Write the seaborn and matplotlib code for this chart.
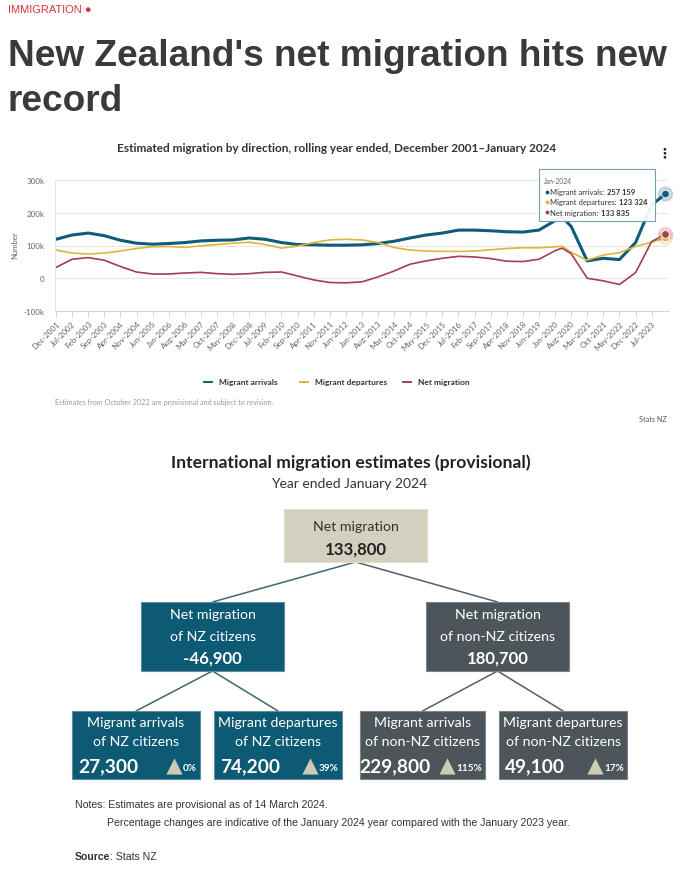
import matplotlib
matplotlib.use("Agg")
import matplotlib.pyplot as plt
from matplotlib.patches import Rectangle
import pandas as pd
import seaborn as sns

# Rolling-year migration, thousands
months = ["Dec-2001", "Jul-2002", "Feb-2003", "Sep-2003", "Apr-2004", "Nov-2004",
          "Jun-2005", "Jan-2006", "Aug-2006", "Mar-2007", "Oct-2007", "May-2008",
          "Dec-2008", "Jul-2009", "Feb-2010", "Sep-2010", "Apr-2011", "Nov-2011",
          "Jun-2012", "Jan-2013", "Aug-2013", "Mar-2014", "Oct-2014", "May-2015",
          "Dec-2015", "Jul-2016", "Feb-2017", "Sep-2017", "Apr-2018", "Nov-2018",
          "Jun-2019", "Jan-2020", "Apr-2020", "Aug-2020", "Mar-2021", "Oct-2021",
          "May-2022", "Dec-2022", "Jul-2023", "Jan-2024"]
arrivals = [119, 132, 138, 130, 116, 107, 104, 106, 109, 114, 116, 117,
            123, 119, 109, 103, 102, 101, 101, 102, 106, 113, 123, 132,
            138, 147, 147, 145, 142, 141, 147, 176, 188, 158, 53, 61,
            57, 109, 224, 257.159]
departures = [86, 77, 74, 77, 83, 91, 96, 97, 94, 99, 103, 107,
              110, 103, 92, 98, 109, 117, 119, 117, 109, 94, 86, 83,
              82, 82, 83, 87, 91, 93, 93, 96, 98, 79, 55, 71,
              78, 97, 110, 123.324]
net = [33, 58, 63, 55, 36, 19, 13, 13, 16, 18, 14, 12,
       14, 18, 19, 7, -5, -13, -14, -11, 4, 22, 43, 53,
       61, 67, 65, 60, 52, 51, 58, 84, 92, 75, 0, -8,
       -19, 17, 112, 133.835]

series_names = ["Migrant arrivals", "Migrant departures", "Net migration"]
series_colors = ["#0f5c78", "#dfb53c", "#a1404e"]
series_widths = [2.2, 1.2, 1.2]

tick_labels = ["Dec-2001", "Jul-2002", "Feb-2003", "Sep-2003", "Apr-2004", "Nov-2004",
               "Jun-2005", "Jan-2006", "Aug-2006", "Mar-2007", "Oct-2007", "May-2008",
               "Dec-2008", "Jul-2009", "Feb-2010", "Sep-2010", "Apr-2011", "Nov-2011",
               "Jun-2012", "Jan-2013", "Aug-2013", "Mar-2014", "Oct-2014", "May-2015",
               "Dec-2015", "Jul-2016", "Feb-2017", "Sep-2017", "Apr-2018", "Nov-2018",
               "Jun-2019", "Jan-2020", "Aug-2020", "Mar-2021", "Oct-2021", "May-2022",
               "Dec-2022", "Jul-2023"]
y_ticks = [-100, 0, 100, 200, 300]
y_tick_labels = ["-100k", "0", "100k", "200k", "300k"]

tooltip_month = "Jan-2024"
tooltip_values = ["257 159", "123 324", "133 835"]

# Year ended January 2024 breakdown
top_label = "Net migration"
top_value = "133,800"
mid_labels = [["Net migration", "of NZ citizens"], ["Net migration", "of non-NZ citizens"]]
mid_values = ["-46,900", "180,700"]
bottom_labels = [["Migrant arrivals", "of NZ citizens"], ["Migrant departures", "of NZ citizens"],
                 ["Migrant arrivals", "of non-NZ citizens"], ["Migrant departures", "of non-NZ citizens"]]
bottom_values = ["27,300", "74,200", "229,800", "49,100"]
bottom_changes = ["0%", "39%", "115%", "17%"]

TEAL = "#0c5a74"
SLATE = "#4c5559"
BEIGE = "#d3d0bf"
ARIAL = ["Liberation Sans", "DejaVu Sans"]

sns.set_theme(style="white")
plt.rcParams["font.family"] = ["Lato", "DejaVu Sans"]

fig = plt.figure(figsize=(6.8, 8.78), dpi=100)
fig.patch.set_facecolor("white")
renderer = fig.canvas.get_renderer()

ax = fig.add_axes([54.5 / 680, 1 - 312 / 878, (668 - 54.5) / 680, (312 - 181) / 878])
ov = fig.add_axes([0, 0, 1, 1], zorder=5)
ov.set_xlim(0, 680)
ov.set_ylim(878, 0)
ov.axis("off")


def fit(t, width):
    w = t.get_window_extent(renderer).width
    t.set_fontsize(t.get_fontsize() * width / w)
    return t.get_fontsize()


def text_run(x, y, parts, gap=0, **kw):
    for s, weight in parts:
        t = ov.text(x, y, s, fontweight=weight, **kw)
        x += t.get_window_extent(renderer).width + gap


# ---- line chart ----
dates = pd.to_datetime(months, format="%b-%Y")
df = pd.DataFrame({"month": dates, series_names[0]: arrivals,
                   series_names[1]: departures, series_names[2]: net})
long = df.melt(id_vars="month", var_name="series", value_name="value")
palette = dict(zip(series_names, series_colors))

sns.lineplot(data=long, x="month", y="value", hue="series", size="series",
             hue_order=series_names, size_order=series_names, palette=palette,
             sizes=dict(zip(series_names, series_widths)), legend=False, ax=ax)

last = long[long["month"] == dates[-1]]
sns.scatterplot(data=last, x="month", y="value", hue="series", hue_order=series_names,
                palette=palette, s=120, alpha=0.25, linewidth=0, legend=False,
                ax=ax, zorder=4, clip_on=False)
sns.scatterplot(data=last, x="month", y="value", hue="series", hue_order=series_names,
                palette=palette, s=30, edgecolor="white", linewidth=0.6, legend=False,
                ax=ax, zorder=5, clip_on=False)

span = (dates[-1] - dates[0]).days
px_day = (665.5 - 56) / span
ax.set_xlim(dates[0] - pd.Timedelta(days=1.5 / px_day), dates[-1] + pd.Timedelta(days=2.5 / px_day))
ax.set_ylim(-100, 300)

tick_dates = pd.to_datetime(tick_labels, format="%b-%Y")
ax.set_xticks(tick_dates)
ax.set_xticklabels(tick_labels, rotation=45, ha="right", rotation_mode="anchor",
                   fontsize=5.8, color="#666666")
ax.tick_params(axis="x", bottom=True, length=4, width=0.7, color="#ccd6eb", pad=2)
ax.set_yticks(y_ticks)
ax.set_yticklabels(y_tick_labels, fontsize=5.8, color="#666666")
ax.tick_params(axis="y", left=False, length=0, pad=7)
ax.set_xlabel("")
ax.set_ylabel("")
ax.grid(axis="y", color="#e6e6e6", lw=0.7)
ax.grid(axis="x", visible=False)
ax.set_axisbelow(True)
for s in ["top", "right"]:
    ax.spines[s].set_visible(False)
ax.spines["left"].set_color("#e6e6e6")
ax.spines["left"].set_linewidth(0.7)
ax.spines["bottom"].set_color("#ccd6eb")
ax.spines["bottom"].set_linewidth(0.8)

# ---- page header ----
ov.text(8, 10, "IMMIGRATION \u25cf", fontsize=8, color="#d9343f", family=ARIAL, va="center")
t = ov.text(8, 66, "New Zealand's net migration hits new", fontsize=26, fontweight="bold",
            color="#3a3a3a", family=ARIAL, va="baseline")
hsize = fit(t, 660)
ov.text(8, 111, "record", fontsize=hsize, fontweight="bold", color="#3a3a3a",
        family=ARIAL, va="baseline")

# ---- chart decorations ----
t = ov.text(337, 149, "Estimated migration by direction, rolling year ended, December 2001\u2013January 2024",
            fontsize=7.5, fontweight="bold", color="#333333", ha="center", va="center")
fit(t, 440)
ov.text(664, 153, "\u22ee", fontsize=10, fontweight="bold", color="#333333",
        ha="center", va="center", family=["DejaVu Sans"])
ov.text(15, 245, "Number", fontsize=5.6, color="#666666", rotation=90, ha="center", va="center")

legend_x = [203, 299, 402]
for lx, name, color in zip(legend_x, series_names, series_colors):
    ov.plot([lx, lx + 10], [382.5, 382.5], color=color, lw=1.4, solid_capstyle="butt")
    ov.text(lx + 16, 382.5, name, fontsize=6.0, fontweight="bold", color="#333333", va="center")

ov.text(55, 403, "Estimates from October 2022 are provisional and subject to revision.",
        fontsize=5.2, color="#999999", va="center")
ov.text(667, 420, "Stats NZ", fontsize=5.2, color="#555555", ha="right", va="center")

# tooltip
ov.add_patch(Rectangle((538.5, 169.5), 116.5, 52, facecolor="white", alpha=0.93,
                       edgecolor="#6a9aab", lw=0.8, zorder=6))
ov.text(544, 181.5, tooltip_month, fontsize=4.9, color="#666666", va="center", zorder=7)
for i, (name, color, val) in enumerate(zip(series_names, series_colors, tooltip_values)):
    y = 192.5 + i * 10.4
    ov.scatter(546.5, y, s=3, color=color, zorder=7)
    text_run(550, y, [(name + ":", "normal"), (val, "bold")], gap=2.5,
             fontsize=5.5, color="#333333", va="center", zorder=7)

# ---- migration breakdown tree ----
t = ov.text(350.5, 463, "International migration estimates (provisional)", fontsize=12,
            fontweight="bold", color="#222222", ha="center", va="center")
fit(t, 355)
t = ov.text(348.7, 484, "Year ended January 2024", fontsize=10, color="#333333",
            ha="center", va="center")
fit(t, 156)

probe = ov.text(0, 0, "Net migration", fontsize=10)
label_size = fit(probe, 86)
probe.remove()
probe = ov.text(0, 0, "133,800", fontsize=10, fontweight="bold")
value_size = fit(probe, 62)
probe.remove()
probe = ov.text(0, 0, "27,300", fontsize=10, fontweight="bold")
bvalue_size = fit(probe, 60)
probe.remove()

top_box = (284, 510, 143, 53)
mid_boxes = [(141, 603, 143, 69), (426, 603, 143, 69)]
bottom_boxes = [(72, 712, 128, 68), (214, 712, 128, 68), (360, 712, 125, 68), (499, 712, 128, 68)]
mid_colors = [TEAL, SLATE]
edge_colors = ["#5f8d9d", "#7d8589"]
link_colors = ["#40666f", "#575d61"]


def center_top(b):
    return b[0] + b[2] / 2, b[1]


def center_bottom(b):
    return b[0] + b[2] / 2, b[1] + b[3]


# connectors
tx, ty = center_bottom(top_box)
for k, mb in enumerate(mid_boxes):
    mx, my = center_top(mb)
    ov.plot([tx, mx], [ty, my], color=link_colors[k], lw=1.1, zorder=1)
    bx, by = center_bottom(mb)
    for bb in bottom_boxes[2 * k:2 * k + 2]:
        cx, cy = center_top(bb)
        ov.plot([bx, cx], [by, cy], color=link_colors[k], lw=1.1, zorder=1)

# top box
ov.add_patch(Rectangle(top_box[:2], top_box[2], top_box[3], facecolor=BEIGE,
                       edgecolor="#e2dfd2", lw=0.8, zorder=2))
ov.text(tx, 527, top_label, fontsize=label_size, color="#333333", ha="center", va="center", zorder=3)
ov.text(tx, 550, top_value, fontsize=value_size, fontweight="bold", color="#222222",
        ha="center", va="center", zorder=3)

# middle boxes
for k, (mb, lines, val) in enumerate(zip(mid_boxes, mid_labels, mid_values)):
    ov.add_patch(Rectangle(mb[:2], mb[2], mb[3], facecolor=mid_colors[k],
                           edgecolor=edge_colors[k], lw=0.8, zorder=2))
    cx = mb[0] + mb[2] / 2
    ov.text(cx, 615, lines[0], fontsize=label_size, color="white", ha="center", va="center", zorder=3)
    ov.text(cx, 637, lines[1], fontsize=label_size, color="white", ha="center", va="center", zorder=3)
    ov.text(cx, 659, val, fontsize=value_size, fontweight="bold", color="white",
            ha="center", va="center", zorder=3)

# bottom boxes
for j, (bb, lines, val, chg) in enumerate(zip(bottom_boxes, bottom_labels, bottom_values, bottom_changes)):
    k = j // 2
    ov.add_patch(Rectangle(bb[:2], bb[2], bb[3], facecolor=mid_colors[k],
                           edgecolor=edge_colors[k], lw=0.8, zorder=2))
    cx = bb[0] + bb[2] / 2
    ov.text(cx, 723, lines[0], fontsize=label_size, color="white", ha="center", va="center", zorder=3)
    ov.text(cx, 742, lines[1], fontsize=label_size, color="white", ha="center", va="center", zorder=3)
    ov.text(bb[0] + 0.28 * bb[2], 767, val, fontsize=bvalue_size, fontweight="bold",
            color="white", ha="center", va="center", zorder=3)
    right = bb[0] + bb[2] - 3
    p = ov.text(right, 768.5, chg, fontsize=7.2, fontweight="bold", color="white",
                ha="right", va="center", zorder=3)
    pw = p.get_window_extent(renderer).width
    ov.scatter(right - pw - 9.5, 767, marker="^", s=135, color="#cfcab4", lw=0, zorder=3)

# notes
t = ov.text(75, 805, "Notes: Estimates are provisional as of 14 March 2024.", fontsize=8,
            color="#333333", family=ARIAL, va="center")
t2 = ov.text(107, 823, "Percentage changes are indicative of the January 2024 year compared with the January 2023 year.",
             fontsize=8, color="#333333", family=ARIAL, va="center")
nsize = fit(t2, 468)
t.set_fontsize(nsize)
text_run(75, 857, [("Source", "bold"), (": Stats NZ", "normal")], fontsize=nsize,
         color="#333333", family=ARIAL, va="center")

fig.savefig("out.png", dpi=100, facecolor="white")
